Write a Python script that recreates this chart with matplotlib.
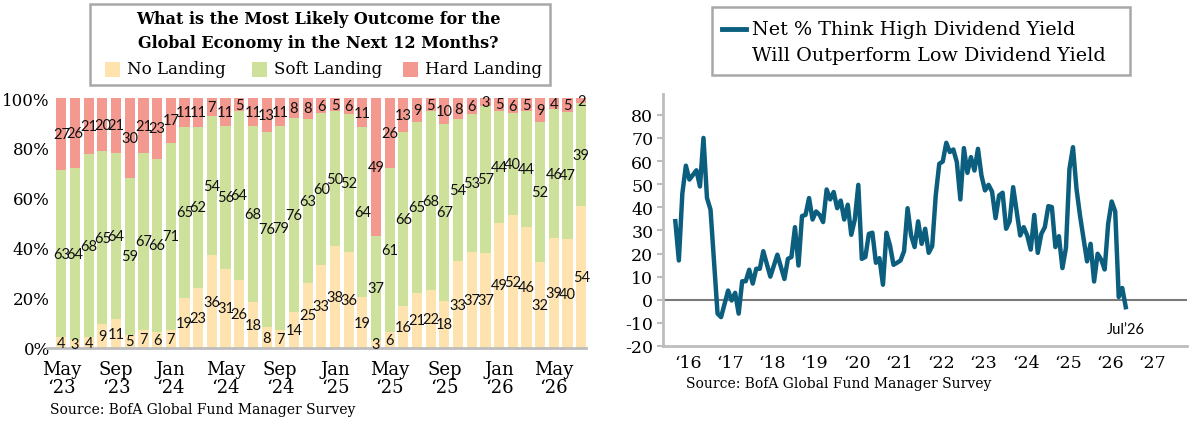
import matplotlib
matplotlib.use("Agg")
import matplotlib.pyplot as plt
import matplotlib.transforms as mtransforms
from matplotlib.patches import Rectangle
from matplotlib.lines import Line2D
import numpy as np

# left chart: BofA FMS, most likely outcome for global economy (May '23 .. Jul '26)
no_landing = [4, 3, 4, 9, 11, 5, 7, 6, 7, 19, 23, 36, 31, 26, 18, 8, 7, 14, 25, 33,
              38, 36, 19, 3, 6, 16, 21, 22, 18, 33, 37, 37, 49, 52, 46, 32, 39, 40, 54]
soft_landing = [63, 64, 68, 65, 64, 59, 67, 66, 71, 65, 62, 54, 56, 64, 68, 76, 79, 76, 63, 60,
                50, 52, 64, 37, 61, 66, 65, 68, 67, 54, 53, 57, 44, 40, 44, 52, 46, 47, 39]
hard_landing = [27, 26, 21, 20, 21, 30, 21, 23, 17, 11, 11, 7, 11, 5, 11, 13, 11, 8, 8, 6,
                5, 6, 11, 49, 26, 13, 9, 5, 10, 8, 6, 3, 5, 6, 5, 9, 4, 5, 2]
month_ticks = [0, 4, 8, 12, 16, 20, 24, 28, 32, 36]
month_labels = ["May\n\u201823", "Sep\n\u201823", "Jan\n\u201824", "May\n\u201824", "Sep\n\u201824",
                "Jan\n\u201825", "May\n\u201825", "Sep\n\u201825", "Jan\n\u201826", "May\n\u201826"]

# right chart: net % high dividend yield will outperform low (month 0 = Nov 2015)
div_month = [0, 1, 2, 3, 4, 6, 7, 8, 9, 10, 12, 13, 15, 16, 17, 18, 19, 20, 21, 22,
             23, 24, 25, 27, 29, 31, 32, 33, 34, 35, 36, 37, 38, 39, 40, 41, 42, 43, 44, 45,
             46, 47, 48, 49, 50, 51, 52, 53, 54, 55, 56, 57, 58, 59, 60, 61, 62, 63, 64, 65,
             66, 67, 68, 69, 70, 71, 72, 73, 74, 75, 76, 77, 78, 79, 80, 81, 82, 83, 84, 85,
             86, 87, 88, 89, 90, 91, 92, 93, 94, 95, 96, 97, 98, 99, 100, 101, 102, 103, 104, 105,
             106, 107, 108, 109, 110, 111, 112, 113, 114, 115, 117, 118, 119, 120, 121, 122, 123, 124, 125, 126,
             127, 128]
div_net = [34, 17, 46, 58, 52, 56, 49, 70, 44, 39, -6, -7.5, 4, -0.3, 3, -6, 8, 8, 13, 7,
           13.4, 13.4, 21, 10, 19.5, 9, 17.7, 18.5, 31.4, 14.8, 36.2, 36.7, 44, 34.7, 38.2, 36.7, 33.6, 47.7, 43.4, 46.6,
           39.6, 42.9, 34.7, 41.1, 28.1, 34.7, 49.7, 17.7, 18.5, 28.5, 29, 16, 18, 6.5, 29, 23.5, 15.1, 16, 17, 21,
           39.6, 27.8, 22.8, 33.9, 24.2, 30.7, 20.3, 23.2, 45.1, 58.8, 59.8, 67.9, 63.9, 65, 59.5, 43.4, 65.6, 54.9, 61.7, 55.9,
           65.3, 53.7, 47.3, 49.7, 46.8, 35.3, 45.1, 46.3, 30.7, 33.9, 48.7, 38.2, 27.8, 31.4, 27.8, 21.7, 36.7, 20.3, 28.5, 31.4,
           40.5, 40.1, 22.8, 27.5, 13.7, 22.4, 56.6, 66, 48, 36.4, 16.6, 24.2, 7.9, 19.9, 17.4, 13.1, 32.9, 42.5, 38.2, 1.2,
           5.1, -3.2]
year_ticks = [2 + 12 * k for k in range(12)]
year_labels = ["\u2018%02d" % (16 + k) for k in range(12)]

YELLOW = "#fee3af"
GREEN = "#cde19a"
RED = "#f4998f"
TEAL = "#0b5e7e"
AXGRAY = "#bdbdbd"
SERIF = "DejaVu Serif"
SANS = "Lato"

W, H = 1200, 431
fig = plt.figure(figsize=(12, 4.31), dpi=100)


def fx(px):
    return px / W


def fy(py):
    return 1 - py / H


# ---------------- left: stacked bars ----------------
ax = fig.add_axes([fx(47), fy(349), fx(586) - fx(47), fy(99) - fy(349)])
no = np.array(no_landing, float)
so = np.array(soft_landing, float)
ha = np.array(hard_landing, float)
tot = no + so + ha
p_no, p_so, p_ha = no / tot * 100, so / tot * 100, ha / tot * 100
x = np.arange(len(no))
bw = 0.74
ax.bar(x, p_no, bw, color=YELLOW, lw=0)
ax.bar(x, p_so, bw, bottom=p_no, color=GREEN, lw=0)
ax.bar(x, p_ha, bw, bottom=p_no + p_so, color=RED, lw=0)
for i in x:
    for val, bot, h in [(no[i], 0, p_no[i]), (so[i], p_no[i], p_so[i]), (ha[i], p_no[i] + p_so[i], p_ha[i])]:
        ax.text(i, bot + h / 2, "%d" % val, ha="center", va="center", fontsize=10.5,
                family=SANS, color="#111111")

ax.set_xlim(-1.05, 38.35)
ax.set_ylim(0, 100)
ax.set_yticks([0, 20, 40, 60, 80, 100])
ax.set_yticklabels(["0%", "20%", "40%", "60%", "80%", "100%"], family=SERIF, fontsize=12)
ax.set_xticks(month_ticks)
ax.set_xticklabels(month_labels, family=SERIF, fontsize=13, linespacing=1.0)
ax.tick_params(length=0)
ax.tick_params(axis="x", pad=9)
ax.tick_params(axis="y", pad=-2)
for s in ["top", "right", "left"]:
    ax.spines[s].set_visible(False)
ax.spines["bottom"].set_color(AXGRAY)
ax.spines["bottom"].set_linewidth(2)

fig.text(fx(50), fy(410), "Source: BofA Global Fund Manager Survey", family=SERIF,
         fontsize=10, va="center", ha="left")

# title / legend box
fig.add_artist(Rectangle((fx(90), fy(86)), fx(550) - fx(90), fy(5) - fy(86),
                         transform=fig.transFigure, fill=False, ec="#a8a8a8", lw=1.8))
fig.text(fx(318), fy(20), "What is the Most Likely Outcome for the", family=SERIF,
         fontsize=11.5, weight="bold", ha="center", va="center")
fig.text(fx(318), fy(44), "Global Economy in the Next 12 Months?", family=SERIF,
         fontsize=11.5, weight="bold", ha="center", va="center")
for sx, col, lab in [(105, YELLOW, "No Landing"), (252, GREEN, "Soft Landing"), (403, RED, "Hard Landing")]:
    fig.add_artist(Rectangle((fx(sx), fy(78)), fx(15), 15 / H, transform=fig.transFigure,
                             color=col, lw=0))
    fig.text(fx(sx + 22), fy(70), lab, family=SERIF, fontsize=12, ha="left", va="center")

# ---------------- right: line ----------------
ax2 = fig.add_axes([fx(663), fy(347), fx(1187) - fx(663), fy(95) - fy(347)])
ax2.plot(div_month, div_net, color=TEAL, lw=3.2, solid_joinstyle="round", zorder=3)
ax2.axhline(0, color="#7a7a7a", lw=1.5, zorder=2)
ax2.set_xlim(-3.5, 145.4)
ax2.set_ylim(-20, 89)
ax2.set_yticks(range(-20, 81, 10))
ax2.set_yticklabels([str(v) for v in range(-20, 81, 10)], family=SERIF, fontsize=12.5)
ax2.set_xticks(year_ticks)
ax2.set_xticklabels(year_labels, family=SERIF, fontsize=12.5)
ax2.tick_params(axis="x", length=0, pad=6)
ax2.tick_params(axis="y", length=4, width=1.5, color=AXGRAY, pad=3)
offset = mtransforms.ScaledTranslation(5.5 / 100, 0, fig.dpi_scale_trans)
for lab in ax2.get_xticklabels():
    lab.set_transform(lab.get_transform() + offset)
for s in ["top", "right"]:
    ax2.spines[s].set_visible(False)
for s in ["left", "bottom"]:
    ax2.spines[s].set_color(AXGRAY)
    ax2.spines[s].set_linewidth(2)
ax2.text(div_month[-1], -9.5, "Jul\u201926", family=SANS, fontsize=10.5, ha="center", va="top")

fig.text(fx(686), fy(384), "Source: BofA Global Fund Manager Survey", family=SERIF,
         fontsize=10, va="center", ha="left")

fig.add_artist(Rectangle((fx(712), fy(76)), fx(1130) - fx(712), fy(8) - fy(76),
                         transform=fig.transFigure, fill=False, ec="#a8a8a8", lw=1.8))
fig.add_artist(Line2D([fx(722), fx(746)], [fy(30), fy(30)], transform=fig.transFigure,
                      color=TEAL, lw=3.5))
fig.text(fx(752), fy(30), "Net % Think High Dividend Yield", family=SERIF, fontsize=13.8,
         ha="left", va="center")
fig.text(fx(752), fy(56), "Will Outperform Low Dividend Yield", family=SERIF, fontsize=13.8,
         ha="left", va="center")

fig.savefig("out.png", dpi=100)
